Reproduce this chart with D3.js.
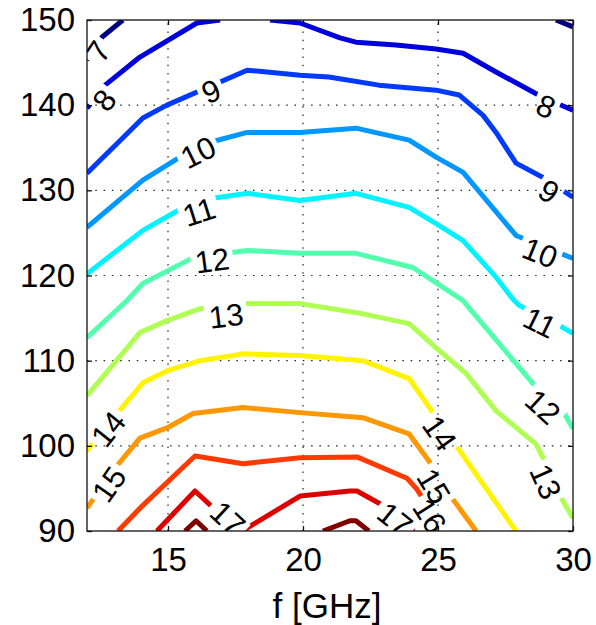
<!DOCTYPE html>
<html>
<head>
<meta charset="utf-8">
<script src="https://cdn.jsdelivr.net/npm/d3@7"></script>
<style>
  html, body { margin: 0; padding: 0; background: #fff; }
  svg { display: block; font-family: "Liberation Sans", Arial, Helvetica, sans-serif; }
</style>
</head>
<body>
<svg id="chart" width="596" height="625"></svg>
<script>
// contour lines, one array per level; each piece is a list of [f (GHz), value]
var c7 = [
  [[12, 145.3], [12.56, 148.0], [13.33, 150]],
  [[29.37, 150], [30, 149.2]]
];
var c8 = [
  [[12, 139.65], [12.67, 142.35], [13.96, 145.65], [16.07, 149.65], [16.93, 150]],
  [[18.78, 150], [19.89, 149.65], [21.37, 147.9], [21.96, 147.4], [23.44, 147.06], [24.93, 146.6],
   [25.93, 146.1], [27.15, 143.9], [28.89, 140.9], [30, 139.4]]
];
var c9 = [
  [[12, 132.0], [14.07, 138.5], [14.96, 140], [17.93, 144.1], [18.67, 143.9], [19.89, 143.5],
   [20.96, 143.3], [22.81, 142.35], [24.93, 141.76], [25.78, 141.2], [26.67, 138.8], [27.15, 136.8],
   [27.89, 133.2], [28.89, 131.5], [30, 129.2]]
];
var c10 = [
  [[12, 125.65], [14.07, 131.2], [15.44, 133.9], [16.56, 135.65], [17.93, 136.8], [19.89, 136.8],
   [21.96, 137.3], [23.93, 135.9], [24.93, 133.9], [25.93, 132.1], [27.89, 124.7], [30, 122]]
];
var c11 = [
  [[12, 120.2], [14.07, 125.3], [15.52, 127.9], [16.67, 129.06], [17.96, 129.65], [19.89, 128.8],
   [21.96, 129.65], [23.93, 128.0], [24.93, 126.1], [25.93, 124.1], [27.15, 119.8], [27.78, 117.2],
   [28, 116.5], [29.37, 114.35], [30, 113.2]]
];
var c12 = [
  [[12, 112.7], [13.48, 117.06], [14.07, 119.06], [15.93, 122.1], [17.93, 122.94], [19.89, 122.6],
   [21.96, 122.6], [24.07, 120.94], [25.93, 117.06], [26.15, 116.2], [28.52, 107.3], [29.63, 104.1], [30, 102]]
];
var c13 = [
  [[12, 105.9], [13.96, 113.3], [14.96, 114.7], [16.19, 116.1], [17.78, 116.7], [19.89, 116.7],
   [22.22, 115.5], [23.93, 114.35], [24.93, 111.5], [26.04, 108.5], [27.15, 104.1], [28.63, 100.2],
   [28.89, 98.6], [29.48, 94.35], [30, 91.5]]
];
var c14 = [
  [[12, 99.4], [13.04, 103.5], [14.07, 107.4], [14.96, 108.8], [16.19, 110], [17.78, 110.8],
   [19.89, 110.6], [22.22, 110], [23.93, 107.9], [27.89, 90]]
];
var c15 = [
  [[12, 92.7], [13.04, 97.4], [13.96, 100.9], [14.96, 102.1], [15.93, 103.8], [17.78, 104.5],
   [19.89, 103.9], [22.22, 103.3], [23.93, 101.4], [24.67, 98.2], [25.41, 94.35], [26.41, 90]]
];
var c16 = [
  [[13.15, 90], [14, 92.8], [16, 98.8], [17.78, 97.9], [19.89, 98.6], [22, 98.7], [23.85, 96.2],
   [24.22, 94.9], [25.22, 90]]
];
var c17 = [
  [[14.59, 90], [16, 94.7], [17.6, 90]],
  [[17.75, 90], [19.89, 94.1], [21.74, 94.7], [22, 94.7], [22.85, 93.2], [24.11, 90]]
];
var c18 = [
  [[15.63, 90], [16.04, 91.2], [16.44, 90]],
  [[20.74, 90], [21.74, 91.2], [21.96, 91.2], [22.44, 90]]
];

// inline labels: [level, f, value]
var labelPos = [
  [7, 12.41, 146.35],
  [8, 12.63, 140.6], [8, 29.0, 139.9],
  [9, 16.59, 141.65], [9, 29.11, 129.9],
  [10, 16.11, 134.5], [10, 28.78, 122.7],
  [11, 16.15, 127.5], [11, 28.78, 114.5],
  [12, 16.63, 121.8], [12, 28.89, 104.6],
  [13, 17.15, 115.3], [13, 29.0, 95.8],
  [14, 12.78, 102.0], [14, 25.07, 101.5],
  [15, 12.81, 95.5], [15, 24.85, 95.3],
  [16, 24.7, 91.8],
  [17, 17.22, 91.5], [17, 23.41, 91.4]
];

var xTicks = [15, 20, 25, 30];
var yTicks = [90, 100, 110, 120, 130, 140, 150];
var xGrid = [15, 20, 25];
var yGrid = [100, 110, 120, 130, 140];

var contours = [
  [7, c7], [8, c8], [9, c9], [10, c10], [11, c11], [12, c12],
  [13, c13], [14, c14], [15, c15], [16, c16], [17, c17], [18, c18]
];

var svg = d3.select("#chart");
var pLeft = 87, pRight = 573, pTop = 20, pBottom = 531;

var x = d3.scaleLinear().domain([12, 30]).range([pLeft, pRight]);
var y = d3.scaleLinear().domain([90, 150]).range([pBottom, pTop]);

// jet colormap over the level range
function jet(v) {
  var t = (v - 7) / 11 * 4;
  function c(u) { return Math.max(0, Math.min(1, 1.5 - Math.abs(t - u))); }
  return d3.rgb(c(3) * 255, c(2) * 255, c(1) * 255).formatHex();
}

var defs = svg.append("defs");
defs.append("clipPath").attr("id", "plotClip")
  .append("rect")
  .attr("x", pLeft).attr("y", pTop)
  .attr("width", pRight - pLeft).attr("height", pBottom - pTop);

// grid
var grid = svg.append("g")
  .attr("stroke", "#222")
  .attr("stroke-width", 1.2)
  .attr("stroke-dasharray", "1.5,6.8");
grid.selectAll("line.gx")
  .data(xGrid)
  .enter()
  .append("line")
  .attr("x1", function (d) { return x(d); })
  .attr("x2", function (d) { return x(d); })
  .attr("y1", pBottom)
  .attr("y2", pTop);
grid.selectAll("line.gy")
  .data(yGrid)
  .enter()
  .append("line")
  .attr("x1", pLeft)
  .attr("x2", pRight)
  .attr("y1", function (d) { return y(d); })
  .attr("y2", function (d) { return y(d); });

// nearest point on a level's polylines (in pixels), with the local direction
function nearest(pieces, px, py) {
  var best = null;
  pieces.forEach(function (piece) {
    for (var i = 0; i < piece.length - 1; i++) {
      var ax = x(piece[i][0]), ay = y(piece[i][1]);
      var bx = x(piece[i + 1][0]), by = y(piece[i + 1][1]);
      var dx = bx - ax, dy = by - ay;
      var t = ((px - ax) * dx + (py - ay) * dy) / (dx * dx + dy * dy);
      t = Math.max(0, Math.min(1, t));
      var qx = ax + t * dx, qy = ay + t * dy;
      var dist = (qx - px) * (qx - px) + (qy - py) * (qy - py);
      if (best == null || dist < best.dist) {
        var ang = Math.atan2(dy, dx) * 180 / Math.PI;
        if (ang > 90) ang -= 180;
        if (ang < -90) ang += 180;
        best = {x: qx, y: qy, angle: ang, dist: dist};
      }
    }
  });
  return best;
}

var lineG = svg.append("g").attr("clip-path", "url(#plotClip)");

// labels (measured first so we know how wide the gaps must be)
var labelFont = 31;
var labelG = svg.append("g").attr("clip-path", "url(#plotClip)");
var labelInfo = labelPos.map(function (d) {
  var pieces = contours.filter(function (c) { return c[0] == d[0]; })[0][1];
  var px = x(d[1]), py = y(d[2]);
  var n = nearest(pieces, px, py);
  var t = labelG.append("text")
    .attr("text-anchor", "middle")
    .attr("dy", "0.36em")
    .attr("font-size", labelFont)
    .attr("fill", "#000")
    .attr("transform", "translate(" + px + "," + py + ") rotate(" + n.angle + ")")
    .text(d[0]);
  return {level: d[0], gap: n, width: t.node().getComputedTextLength()};
});

// one mask per level to cut gaps where its labels sit
contours.forEach(function (c) {
  var m = defs.append("mask")
    .attr("id", "gap" + c[0])
    .attr("maskUnits", "userSpaceOnUse")
    .attr("x", 0).attr("y", 0).attr("width", 596).attr("height", 625);
  m.append("rect")
    .attr("x", 0).attr("y", 0).attr("width", 596).attr("height", 625)
    .attr("fill", "#fff");
  labelInfo.filter(function (l) { return l.level == c[0]; }).forEach(function (l) {
    var w = l.width + 8, h = 26;
    m.append("rect")
      .attr("x", -w / 2).attr("y", -h / 2)
      .attr("width", w).attr("height", h)
      .attr("fill", "#000")
      .attr("transform", "translate(" + l.gap.x + "," + l.gap.y + ") rotate(" + l.gap.angle + ")");
  });
});

var line = d3.line()
  .x(function (d) { return x(d[0]); })
  .y(function (d) { return y(d[1]); });

contours.forEach(function (c) {
  lineG.append("g")
    .attr("mask", "url(#gap" + c[0] + ")")
    .selectAll("path")
    .data(c[1])
    .enter()
    .append("path")
    .attr("d", line)
    .attr("fill", "none")
    .attr("stroke", jet(c[0]))
    .attr("stroke-width", 5)
    .attr("stroke-linejoin", "round");
});

// axes: inward ticks on all four sides
var tickFont = 33;
var gx = svg.append("g")
  .attr("transform", "translate(0," + pBottom + ")")
  .call(d3.axisBottom(x).tickValues(xTicks).tickSizeInner(-5).tickSizeOuter(0).tickPadding(17));
var gy = svg.append("g")
  .attr("transform", "translate(" + pLeft + ",0)")
  .call(d3.axisLeft(y).tickValues(yTicks).tickSizeInner(-5).tickSizeOuter(0).tickPadding(12));
var gt = svg.append("g")
  .attr("transform", "translate(0," + pTop + ")")
  .call(d3.axisTop(x).tickValues(xTicks).tickSizeInner(-5).tickSizeOuter(0).tickFormat(""));
var gr = svg.append("g")
  .attr("transform", "translate(" + pRight + ",0)")
  .call(d3.axisRight(y).tickValues(yTicks).tickSizeInner(-5).tickSizeOuter(0).tickFormat(""));

[gx, gy, gt, gr].forEach(function (g) {
  g.select(".domain").remove();
  g.selectAll("line").attr("stroke", "#111").attr("stroke-width", 1.3);
  g.selectAll("text")
    .attr("font-size", tickFont)
    .attr("font-family", "Liberation Sans, Arial, Helvetica, sans-serif")
    .attr("fill", "#000");
});

svg.append("rect")
  .attr("x", pLeft).attr("y", pTop)
  .attr("width", pRight - pLeft).attr("height", pBottom - pTop)
  .attr("fill", "none")
  .attr("stroke", "#111")
  .attr("stroke-width", 1.3);

svg.append("text")
  .attr("x", (pLeft + pRight) / 2 - 3)
  .attr("y", 618)
  .attr("text-anchor", "middle")
  .attr("font-size", 35)
  .attr("fill", "#000")
  .text("f [GHz]");
</script>
</body>
</html>
